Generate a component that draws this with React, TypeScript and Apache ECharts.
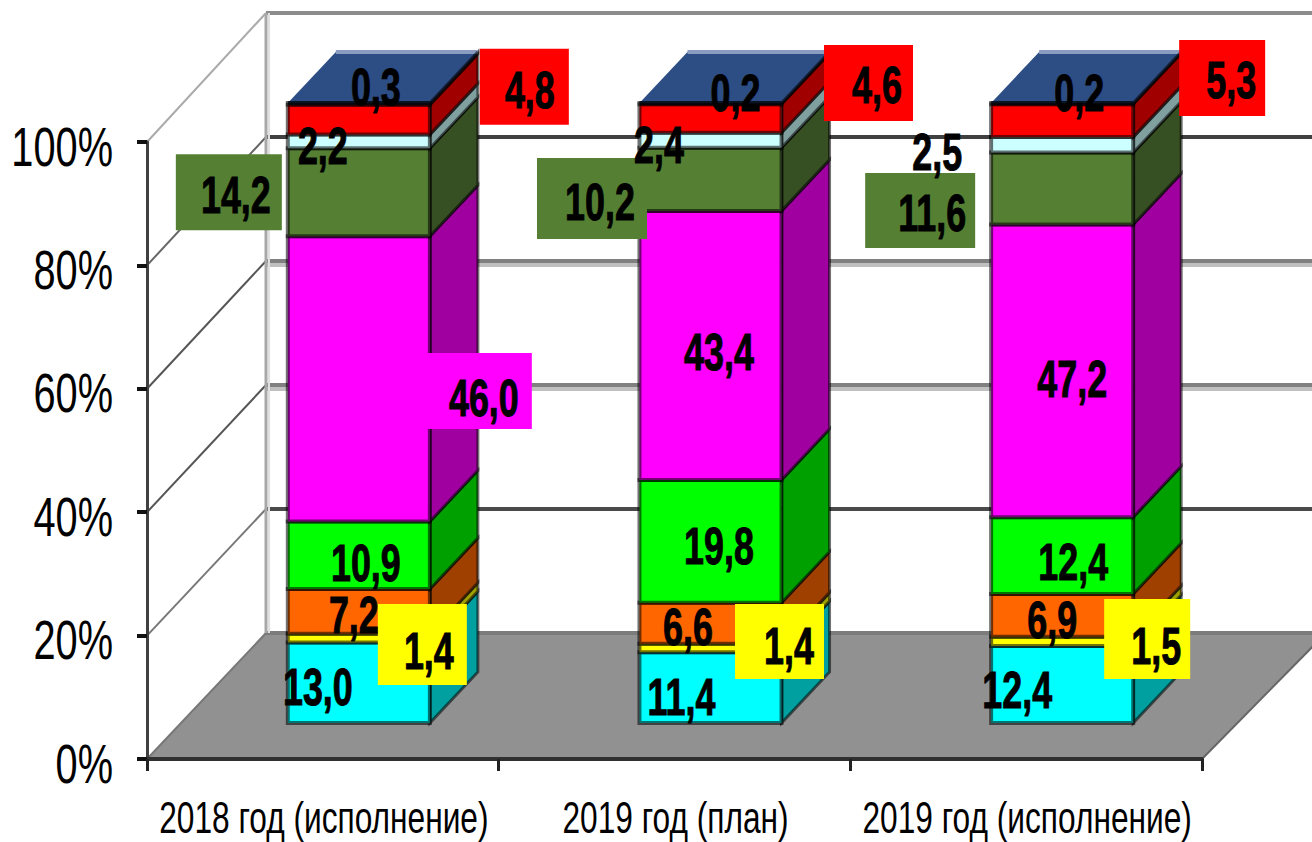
import React, { useEffect, useRef } from "react";
import * as echarts from "echarts";

const categories = ["2018 год (исполнение)", "2019 год (план)", "2019 год (исполнение)"];
const tickValues = [0, 20, 40, 60, 80, 100];

const cyanValues = [13.0, 11.4, 12.4];
const yellowValues = [1.4, 1.4, 1.5];
const orangeValues = [7.2, 6.6, 6.9];
const limeValues = [10.9, 19.8, 12.4];
const magentaValues = [46.0, 43.4, 47.2];
const oliveValues = [14.2, 10.2, 11.6];
const paleValues = [2.2, 2.4, 2.5];
const redValues = [4.8, 4.6, 5.3];
const navyValues = [0.3, 0.2, 0.2];

const stack = [cyanValues, yellowValues, orangeValues, limeValues, magentaValues, oliveValues, paleValues, redValues, navyValues];

const frontColors = ["#00ffff", "#ffff00", "#ff6600", "#00ff00", "#ff00ff", "#558033", "#ccffff", "#ff0000", "#2d4d85"];
const sideColors = ["#00a0a0", "#a0a000", "#a04000", "#00a000", "#a000a0", "#375023", "#80a0a0", "#a00000", "#1e325a"];

// label background boxes: [dx, dy, width, height] from the label centre, per bar
const labelBoxes: (number[] | null)[][] = [
  [null, null, null],
  [[-6.5, -5.5, 89, 81], [-9.5, -3.5, 89, 75], [-9, -6, 86, 80]],
  [null, null, null],
  [null, null, null],
  [[-5.5, -6, 107, 76], null, null],
  [[-7, -2, 106, 76], [-8, -2.5, 110, 81], [-12, -1.5, 110, 75]],
  [null, null, null],
  [[-5.5, -2, 89, 76], [-8.5, -0.5, 89, 76], [-9, -1, 86, 76]],
  [null, null, null],
];

// label offsets from the middle of each segment, [dx, dy] per bar
const labelOffsets = [
  [[-41, 3], [-29, 8], [-45, 4]],
  [[70, 12], [78.5, -3], [94, 3.5]],
  [[-5, 3], [-22.5, 3], [-10, 3.6]],
  [[7, 7], [8.5, 4], [11, 5.4]],
  [[125, 18], [8.5, 6], [10, 7.2]],
  [[-123, 2], [-110.5, 21.7], [-130, 23.4]],
  [[-36, 4], [-51.5, 3.3], [-125, 6]],
  [[171, -31], [166.5, -35], [169, -41.7]],
  [[17, -18], [25, -12], [17, -11.6]],
];

const FONT = '"Liberation Sans", Arial, sans-serif';
const AXIS = { left: 147, top: 142, width: 1055, height: 617 };
const BARS = { left: 183, top: 103, width: 1055, height: 620 };
const BACK = { left: 266, top: 13, width: 1060, height: 620 };
const DEPTH_X = 48;
const DEPTH_Y = -51;
const BAR_RATIO = 0.404;
const EDGE = "rgba(0,0,0,0.55)";

const backLine = ["#777777", "#4a4a4a", "#808080", "#808080", "#404040", "#8c8c8c"];
const backShade = [null, null, "#c0c0c0", "#c0c0c0", null, null];
const diagonalLine = ["#777777", "#777777", "#555555", "#555555", "#666666", "#aaaaaa"];

function line(x1: number, y1: number, x2: number, y2: number, stroke: string, lineWidth: number) {
  return { type: "line", shape: { x1, y1, x2, y2 }, style: { stroke, lineWidth, fill: null } };
}

function renderWall(_p: any, api: any) {
  const i = api.value(0);
  const v = tickValues[i];
  const a = api.coord([0, v]);
  const b = api.coord([1, v]);
  const fy = AXIS.top + AXIS.height * (1 - v / 100);
  const fx = AXIS.left;
  const children: any[] = [];
  if (v === 0) {
    children.push({
      type: "polygon",
      shape: { points: [[fx, fy], [a[0], a[1]], [b[0], b[1]], [AXIS.left + AXIS.width, fy]] },
      style: { fill: "#919191" },
    });
    children.push(line(a[0], a[1], 1312, a[1], "#7c7c7c", 4));
    children.push(line(AXIS.left + AXIS.width, fy, b[0], b[1], "#666666", 2));
  } else {
    children.push(line(a[0], a[1], b[0], a[1], backLine[i], 4));
    if (backShade[i]) children.push(line(a[0], a[1] + 4, b[0], a[1] + 4, backShade[i] as string, 4));
  }
  if (v === 100) {
    const low = api.coord([0, 0]);
    children.push(line(a[0], a[1], a[0], low[1], "#a8a8a8", 3));
    children.push(line(a[0] + 3, a[1], a[0] + 3, low[1], "#e0e0e0", 2));
  }
  children.push(line(fx, fy, a[0], a[1], diagonalLine[i], 2));
  return { type: "group", children };
}

function segmentRenderer(seriesIndex: number) {
  return (_p: any, api: any) => {
    const cat = api.value(0);
    const start = api.value(1);
    const end = api.value(2);
    const w = api.size([1, 0])[0] * BAR_RATIO;
    const cx = api.coord([cat, 0])[0];
    const y0 = api.coord([cat, start])[1];
    const y1 = api.coord([cat, end])[1];
    const l = cx - w / 2;
    const r = cx + w / 2;
    const children: any[] = [
      {
        type: "polygon",
        shape: { points: [[r, y0], [r + DEPTH_X, y0 + DEPTH_Y], [r + DEPTH_X, y1 + DEPTH_Y], [r, y1]] },
        style: { fill: sideColors[seriesIndex], stroke: EDGE, lineWidth: 3 },
      },
      {
        type: "rect",
        shape: { x: l, y: y1, width: w, height: y0 - y1 },
        style: { fill: frontColors[seriesIndex], stroke: EDGE, lineWidth: 4 },
      },
    ];
    if (seriesIndex === stack.length - 1) {
      children.push({
        type: "polygon",
        shape: { points: [[l, y1], [l + DEPTH_X, y1 + DEPTH_Y], [r + DEPTH_X, y1 + DEPTH_Y], [r, y1]] },
        style: { fill: frontColors[seriesIndex] },
      });
      children.push(line(l + DEPTH_X, y1 + DEPTH_Y, r + DEPTH_X, y1 + DEPTH_Y, "#8a9cbf", 4));
      children.push(line(r, y1, r + DEPTH_X, y1 + DEPTH_Y, "rgba(0,0,0,0.6)", 3));
      children.push(line(l, y1, r, y1, "rgba(0,0,0,0.75)", 4));
    }
    return { type: "group", children };
  };
}

function renderLabel(_p: any, api: any) {
  const cat = api.value(0);
  const s = api.value(1);
  const start = api.value(2);
  const end = api.value(3);
  const cx = api.coord([cat, 0])[0];
  const my = api.coord([cat, (start + end) / 2])[1];
  const [dx, dy] = labelOffsets[s][cat];
  const x = cx + dx;
  const y = my + dy;
  const children: any[] = [];
  const box = labelBoxes[s][cat];
  if (box) {
    children.push({
      type: "rect",
      shape: { x: x + box[0] - box[2] / 2, y: y + box[1] - box[3] / 2, width: box[2], height: box[3] },
      style: { fill: frontColors[s] },
    });
  }
  children.push({
    type: "text",
    x,
    y: y + 1,
    scaleX: 0.69,
    style: {
      text: stack[s][cat].toFixed(1).replace(".", ","),
      fontFamily: FONT,
      fontWeight: "bold",
      fontSize: 52,
      fill: "#000000",
      stroke: "#000000",
      lineWidth: 1,
      align: "center",
      verticalAlign: "middle",
    },
  });
  return { type: "group", children };
}

function renderTickLabel(_p: any, api: any) {
  const v = tickValues[api.value(0)];
  const p = api.coord([0, v]);
  return {
    type: "text",
    x: AXIS.left - 34,
    y: p[1] + 4,
    scaleX: 0.71,
    style: {
      text: v + "%",
      fontFamily: FONT,
      fontSize: 56,
      fill: "#000000",
      align: "right",
      verticalAlign: "middle",
    },
  };
}

function renderCategoryLabel(_p: any, api: any) {
  const c = api.value(0);
  const p = api.coord([c, 0]);
  return {
    type: "text",
    x: p[0] + 1,
    y: p[1] + 59,
    scaleX: 0.72,
    style: {
      text: categories[c],
      fontFamily: FONT,
      fontSize: 44,
      fill: "#000000",
      align: "center",
      verticalAlign: "middle",
    },
  };
}

function buildSeries() {
  const series: any[] = [
    {
      type: "custom",
      xAxisIndex: 2,
      yAxisIndex: 2,
      z: 1,
      silent: true,
      clip: false,
      renderItem: renderWall,
      data: tickValues.map((_, i) => [i]),
      encode: { x: [], y: [] },
    },
    {
      type: "custom",
      xAxisIndex: 0,
      yAxisIndex: 0,
      z: 3,
      silent: true,
      clip: false,
      renderItem: renderTickLabel,
      data: tickValues.map((_, i) => [i]),
      encode: { x: [], y: [] },
    },
    {
      type: "custom",
      xAxisIndex: 0,
      yAxisIndex: 0,
      z: 3,
      silent: true,
      clip: false,
      renderItem: renderCategoryLabel,
      data: categories.map((_, i) => [i]),
      encode: { x: [], y: [] },
    },
  ];
  const running = categories.map(() => 0);
  const labelData: number[][] = [];
  stack.forEach((values, s) => {
    const data = values.map((v, c) => {
      const start = running[c];
      running[c] = start + v;
      labelData.push([c, s, start, running[c]]);
      return [c, start, running[c]];
    });
    series.push({
      type: "custom",
      xAxisIndex: 1,
      yAxisIndex: 1,
      z: 4,
      silent: true,
      clip: false,
      renderItem: segmentRenderer(s),
      data,
      encode: { x: 0, y: [1, 2] },
    });
  });
  series.push({
    type: "custom",
    xAxisIndex: 1,
    yAxisIndex: 1,
    z: 6,
    silent: true,
    clip: false,
    renderItem: renderLabel,
    data: labelData,
    encode: { x: 0, y: [2, 3] },
  });
  return series;
}

export default function App() {
  const ref = useRef<HTMLDivElement>(null);
  useEffect(() => {
    document.body.style.margin = "0";
    document.body.style.overflow = "hidden";
    const chart = echarts.init(ref.current!, null, { renderer: "svg" });
    chart.setOption({
      animation: false,
      backgroundColor: "#ffffff",
      grid: [
        { ...AXIS, outerBoundsMode: "none" },
        { ...BARS, outerBoundsMode: "none" },
        { ...BACK, outerBoundsMode: "none" },
      ],
      xAxis: [
        {
          type: "category",
          gridIndex: 0,
          data: categories,
          z: 3,
          axisLine: { lineStyle: { color: "#303030", width: 4 } },
          axisTick: { show: true, length: 12, alignWithLabel: false, lineStyle: { color: "#222222", width: 3 } },
          axisLabel: { show: false },
        },
        { type: "category", gridIndex: 1, data: categories, show: false },
        { type: "value", gridIndex: 2, min: 0, max: 1, show: false, splitLine: { show: false } },
      ],
      yAxis: [
        {
          type: "value",
          gridIndex: 0,
          min: 0,
          max: 100,
          interval: 20,
          z: 3,
          splitLine: { show: false },
          axisLine: { show: true, lineStyle: { color: "#404040", width: 3 } },
          axisTick: { show: true, length: 10, lineStyle: { color: "#111111", width: 4 } },
          axisLabel: { show: false },
        },
        { type: "value", gridIndex: 1, min: 0, max: 100, show: false, splitLine: { show: false } },
        { type: "value", gridIndex: 2, min: 0, max: 100, show: false, splitLine: { show: false } },
      ],
      series: buildSeries(),
    });
    return () => chart.dispose();
  }, []);
  return <div ref={ref} style={{ position: "fixed", left: 0, top: 0, width: 1312, height: 842 }} />;
}
